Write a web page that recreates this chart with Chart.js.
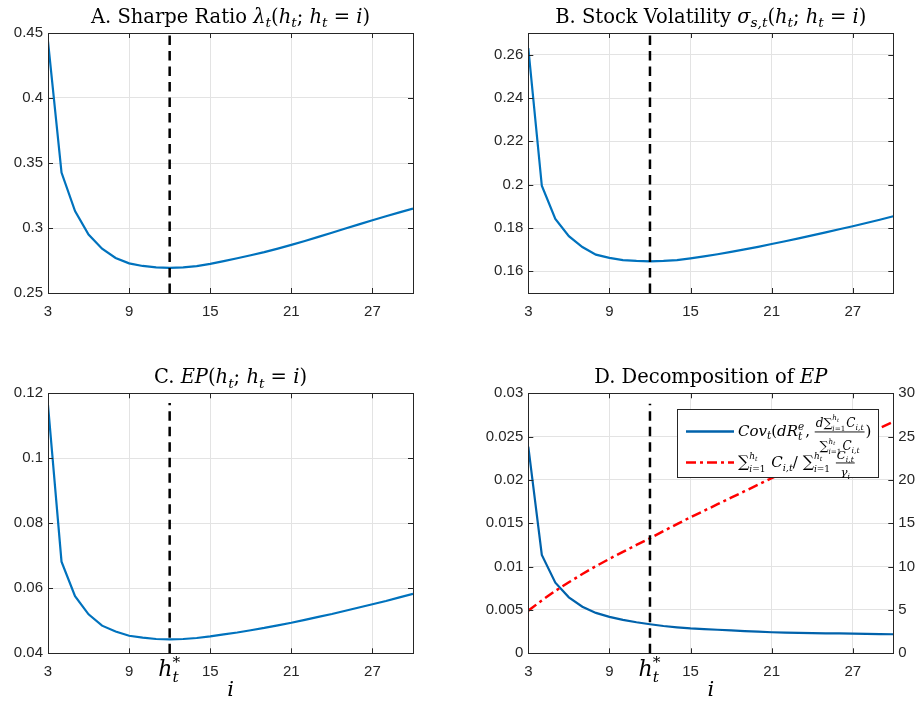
<!DOCTYPE html>
<html>
<head>
<meta charset="utf-8">
<script src="https://cdn.jsdelivr.net/npm/chart.js@4.4.0/dist/chart.umd.min.js"></script>
<style>
  body { margin: 0; background: #fff; }
  #wrap { position: relative; width: 921px; height: 702px; }
  canvas { position: absolute; }
</style>
</head>
<body>
<div id="wrap">
  <canvas id="pa" width="460" height="351" style="left:0;top:0"></canvas>
  <canvas id="pb" width="461" height="351" style="left:460px;top:0"></canvas>
  <canvas id="pc" width="460" height="351" style="left:0;top:351px"></canvas>
  <canvas id="pd" width="461" height="351" style="left:460px;top:351px"></canvas>
</div>
<script>
// horizon i
var iVals = [3, 4, 5, 6, 7, 8, 9, 10, 11, 12, 13, 14, 15, 16, 17, 18, 19, 20, 21, 22, 23, 24, 25, 26, 27, 28, 29, 30];

var sharpe = [0.4436, 0.3426, 0.313, 0.295, 0.2841, 0.277, 0.2728, 0.2708, 0.2697, 0.2694, 0.2697, 0.2707, 0.2724, 0.2745,
              0.2767, 0.279, 0.2814, 0.2841, 0.287, 0.29, 0.2932, 0.2964, 0.2996, 0.3028, 0.306, 0.309, 0.312, 0.315];
var stockVol = [0.263, 0.1995, 0.1842, 0.1762, 0.1712, 0.1677, 0.1662, 0.1652, 0.1648, 0.1646, 0.1648, 0.1652, 0.166, 0.1669,
                0.1679, 0.169, 0.1701, 0.1713, 0.1726, 0.1739, 0.1752, 0.1766, 0.178, 0.1794, 0.1808, 0.1823, 0.1838, 0.1854];
var ep = [0.1164, 0.0682, 0.0576, 0.052, 0.0485, 0.0467, 0.0454, 0.0448, 0.0444, 0.0443, 0.0444, 0.0447, 0.0452, 0.0458,
          0.0464, 0.0471, 0.0478, 0.0486, 0.0494, 0.0503, 0.0512, 0.0521, 0.0531, 0.0541, 0.0551, 0.0561, 0.0572, 0.0583];
var covPart = [0.02385, 0.01135, 0.00815, 0.00646, 0.00538, 0.00466, 0.0042, 0.00385, 0.00358, 0.00335, 0.00315, 0.003, 0.00288, 0.0028,
               0.00272, 0.00264, 0.00256, 0.00249, 0.00243, 0.00239, 0.00236, 0.00233, 0.00231, 0.00229, 0.00227, 0.00224, 0.00222, 0.0022];
var ratioPart = [4.92, 6.1, 7.2, 8.2, 9.15, 10.05, 10.9, 11.7, 12.5, 13.27, 14.1, 14.9, 15.7, 16.45,
                 17.2, 17.95, 18.7, 19.45, 20.2, 20.95, 21.68, 22.4, 23.12, 23.84, 24.56, 25.28, 26.0, 26.7];

// optimal h_t* marker
var hStar = 12;
var vlineA = [0.25, 0.45];
var vlineB = [0.15, 0.27];
var vlineC = [0.04, 0.117];
var vlineD = [0, 0.0288];

// ticks
var xTicks = [3, 9, 15, 21, 27];
var yTicksA = [0.25, 0.3, 0.35, 0.4, 0.45];
var yTicksB = [0.16, 0.18, 0.2, 0.22, 0.24, 0.26];
var yTicksC = [0.04, 0.06, 0.08, 0.1, 0.12];
var yTicksD = [0, 0.005, 0.01, 0.015, 0.02, 0.025, 0.03];
var yTicksD2 = [0, 5, 10, 15, 20, 25, 30];

var BLUE = '#0072BD';
var BLUE_D = '#0062AB';
var RED = '#FF0000';
var AXC = '#262626';
var SERIF = '"DejaVu Serif", "Liberation Serif", serif';
var SANS = '"Liberation Sans", Arial, sans-serif';

// --- small math-ish text helper ---
function T(t, it, s, dy) { return { t: t, it: !!it, s: s || 1, dy: dy || 0 }; }
function fnt(size, it) { return (it ? 'italic ' : '') + size.toFixed(1) + 'px ' + SERIF; }
function runs(ctx, list, size, x, y, draw) {
    var x0 = x;
    list.forEach(function(r) {
        if (r.t !== undefined) {
            ctx.font = fnt(size * r.s, r.it);
            if (draw) ctx.fillText(r.t, x, y + r.dy * size);
            x += ctx.measureText(r.t).width;
        } else if (r.stack) {
            var w = 0;
            r.stack.forEach(function(st) {
                w = Math.max(w, runs(ctx, st[0], size * st[2], x, y + st[1] * size, draw));
            });
            x += w + 1;
        } else if (r.frac) {
            var s = size * r.s;
            var wn = runs(ctx, r.frac[0], s, 0, 0, false);
            var wd = runs(ctx, r.frac[1], s, 0, 0, false);
            var w2 = Math.max(wn, wd) + 2;
            if (draw) {
                runs(ctx, r.frac[0], s, x + (w2 - wn) / 2, y - r.up * size, true);
                runs(ctx, r.frac[1], s, x + (w2 - wd) / 2, y + r.down * size, true);
                ctx.fillRect(x, y - r.bar * size, w2, 0.9);
            }
            x += w2 + 1;
        }
    });
    return x - x0;
}
var sub = function(t) { return T(t, true, 0.7, 0.22); };
var hTeqI = [T('('), T('h', 1), sub('t'), T('; '), T('h', 1), sub('t'), T(' = '), T('i', 1), T(')')];
var sumLim = function() {
    return [T('\u2211', 0, 1.05), { stack: [[[T('h', 1), T('t', 1, 0.7, 0.2)], -0.52, 0.6], [[T('i', 1), T('=1')], 0.34, 0.6]] }];
};

var titleA = [T('A. Sharpe Ratio '), T('\u03bb', 1), sub('t')].concat(hTeqI);
var titleB = [T('B. Stock Volatility '), T('\u03c3', 1), T('s,t', 1, 0.7, 0.22)].concat(hTeqI);
var titleC = [T('C. '), T('EP', 1)].concat(hTeqI);
var titleD = [T('D. Decomposition of '), T('EP', 1)];
var hStarLabel = [T('h', 1), { stack: [[[T('*')], -0.42, 0.7], [[T('t', 1)], 0.28, 0.7]] }];

var legendRow1 = [T('Cov', 1), sub('t'), T('('), T('dR', 1),
    { stack: [[[T('e', 1)], -0.4, 0.7], [[T('t', 1)], 0.25, 0.7]] }, T(', '),
    { frac: [[T('d', 1)].concat(sumLim(), [T('C', 1), T('i,t', 1, 0.65, 0.25)]),
             sumLim().concat([T('C', 1), T('i,t', 1, 0.65, 0.25)])], s: 0.8, up: 0.62, down: 0.92, bar: 0.3 },
    T(')')];
var legendRow2 = sumLim().concat([T(' C', 1), T('i,t', 1, 0.65, 0.25), T('/ ')], sumLim(), [T(' '),
    { frac: [[T('C', 1), T('i,t', 1, 0.65, 0.25)], [T('\u03b3', 1), T('i', 1, 0.65, 0.25)]], s: 0.78, up: 0.52, down: 0.6, bar: 0.3 }]);

function pts(ys) { return iVals.map(function(x, k) { return { x: x, y: ys[k] }; }); }
function vline(range) { return [{ x: hStar, y: range[0] }, { x: hStar, y: range[1] }]; }
function fmt(v) { return String(+v.toFixed(4)); }

function decor(opts) {
    return {
        id: 'decor',
        afterDraw: function(chart) {
            var ctx = chart.ctx, a = chart.chartArea, sx = chart.scales.x, sy = chart.scales.y;
            ctx.save();
            // axes box
            ctx.strokeStyle = AXC;
            ctx.lineWidth = 1;
            ctx.strokeRect(Math.round(a.left) + 0.5, Math.round(a.top) + 0.5, Math.round(a.right - a.left), Math.round(a.bottom - a.top));
            // inward tick marks
            ctx.beginPath();
            sx.ticks.forEach(function(t) {
                var p = Math.round(sx.getPixelForValue(t.value)) + 0.5;
                ctx.moveTo(p, a.bottom); ctx.lineTo(p, a.bottom - 5);
                ctx.moveTo(p, a.top); ctx.lineTo(p, a.top + 5);
            });
            sy.ticks.forEach(function(t) {
                var p = Math.round(sy.getPixelForValue(t.value)) + 0.5;
                ctx.moveTo(a.left, p); ctx.lineTo(a.left + 5, p);
                if (!chart.scales.y2) { ctx.moveTo(a.right, p); ctx.lineTo(a.right - 5, p); }
            });
            if (chart.scales.y2) {
                chart.scales.y2.ticks.forEach(function(t) {
                    var p = Math.round(chart.scales.y2.getPixelForValue(t.value)) + 0.5;
                    ctx.moveTo(a.right, p); ctx.lineTo(a.right - 5, p);
                });
            }
            ctx.stroke();

            ctx.fillStyle = '#000';
            ctx.textBaseline = 'alphabetic';
            ctx.textAlign = 'left';
            // title
            var size = 19.5;
            var w = runs(ctx, opts.title, size, 0, 0, false);
            runs(ctx, opts.title, size, (a.left + a.right) / 2 - w / 2, a.top - 10, true);
            if (opts.xlabel) {
                var hx = sx.getPixelForValue(hStar);
                var hw = runs(ctx, hStarLabel, 22, 0, 0, false);
                runs(ctx, hStarLabel, 22, hx - hw / 2, a.bottom + 23, true);
                ctx.font = fnt(21, true);
                ctx.textAlign = 'center';
                ctx.fillText('i', (a.left + a.right) / 2, a.bottom + 43);
                ctx.textAlign = 'left';
            }
            if (opts.legend) {
                var L = 217.5, Tp = 58.5, R = 418.5, B = 126.5;
                ctx.fillStyle = '#fff';
                ctx.fillRect(L, Tp, R - L, B - Tp);
                ctx.strokeStyle = AXC;
                ctx.strokeRect(L, Tp, R - L, B - Tp);
                ctx.lineWidth = 2.5;
                ctx.strokeStyle = BLUE_D;
                ctx.beginPath(); ctx.moveTo(226, 80.5); ctx.lineTo(274, 80.5); ctx.stroke();
                ctx.strokeStyle = RED;
                ctx.setLineDash([10, 4, 3, 4]);
                ctx.beginPath(); ctx.moveTo(226, 111.5); ctx.lineTo(274, 111.5); ctx.stroke();
                ctx.setLineDash([]);
                ctx.fillStyle = '#000';
                runs(ctx, legendRow1, 15, 278, 85, true);
                runs(ctx, legendRow2, 15, 278, 116, true);
            }
            ctx.restore();
        }
    };
}

function makePanel(id, cfg) {
    var yAxes = {
        x: {
            type: 'linear', min: 3, max: 30,
            afterBuildTicks: function(s) { s.ticks = xTicks.map(function(v) { return { value: v }; }); },
            afterFit: function(s) { s.height = cfg.xh; },
            grid: { color: '#e3e3e3', drawTicks: false },
            border: { display: false },
            ticks: { color: AXC, font: { family: SANS, size: 15 }, padding: 10, maxRotation: 0, callback: fmt }
        },
        y: {
            type: 'linear', min: cfg.ymin, max: cfg.ymax,
            afterBuildTicks: function(s) { s.ticks = cfg.yt.map(function(v) { return { value: v }; }); },
            afterFit: function(s) { s.width = cfg.yw; },
            grid: { color: '#e3e3e3', drawTicks: false },
            border: { display: false },
            ticks: { color: AXC, font: { family: SANS, size: 15 }, padding: 5, callback: fmt }
        }
    };
    if (cfg.y2) {
        yAxes.y2 = {
            type: 'linear', position: 'right', min: 0, max: 30,
            afterBuildTicks: function(s) { s.ticks = yTicksD2.map(function(v) { return { value: v }; }); },
            afterFit: function(s) { s.width = 27.7; },
            grid: { display: false, drawTicks: false },
            border: { display: false },
            ticks: { color: AXC, font: { family: SANS, size: 15 }, padding: 5, callback: fmt }
        };
    }
    return new Chart(document.getElementById(id), {
        type: 'line',
        data: { datasets: cfg.datasets },
        options: {
            responsive: false,
            animation: false,
            devicePixelRatio: 1,
            layout: { padding: { top: cfg.top, right: cfg.right, left: 0, bottom: 0 } },
            elements: { point: { radius: 0 }, line: { tension: 0 } },
            plugins: { legend: { display: false }, tooltip: { enabled: false } },
            scales: yAxes
        },
        plugins: [decor(cfg)]
    });
}

function dashed(range, axis) {
    return { data: vline(range), borderColor: '#000', borderWidth: 2.5, borderDash: [9.5, 6], yAxisID: axis || 'y' };
}

makePanel('pa', {
    title: titleA, top: 33, right: 47, yw: 48, xh: 58, ymin: 0.25, ymax: 0.45, yt: yTicksA,
    datasets: [dashed(vlineA), { data: pts(sharpe), borderColor: BLUE, borderWidth: 2.2 }]
});
makePanel('pb', {
    title: titleB, top: 33, right: 27.7, yw: 68.3, xh: 58, ymin: 0.15, ymax: 0.27, yt: yTicksB,
    datasets: [dashed(vlineB), { data: pts(stockVol), borderColor: BLUE, borderWidth: 2.2 }]
});
makePanel('pc', {
    title: titleC, top: 42.3, right: 47, yw: 48, xh: 48.7, ymin: 0.04, ymax: 0.12, yt: yTicksC, xlabel: true,
    datasets: [dashed(vlineC), { data: pts(ep), borderColor: BLUE, borderWidth: 2.2 }]
});
makePanel('pd', {
    title: titleD, top: 42.3, right: 0, yw: 68.3, xh: 48.7, ymin: 0, ymax: 0.03, yt: yTicksD, xlabel: true, legend: true, y2: true,
    datasets: [dashed(vlineD),
        { data: pts(ratioPart), borderColor: RED, borderWidth: 2.5, borderDash: [10, 4, 3, 4], yAxisID: 'y2' },
        { data: pts(covPart), borderColor: BLUE_D, borderWidth: 2.2 }]
});
</script>
</body>
</html>
